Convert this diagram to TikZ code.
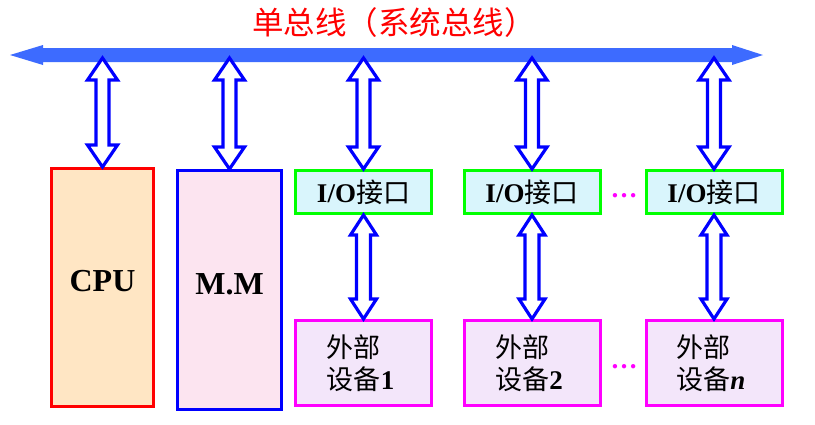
\documentclass[tikz,border=0pt]{standalone}
\usepackage{fontspec}
\setmainfont{Liberation Serif}
\newfontfamily\cjk{Noto Sans CJK SC}
\usetikzlibrary{calc}
\definecolor{busblue}{RGB}{61,107,255}
\definecolor{arrblue}{RGB}{0,0,255}
\definecolor{cpufill}{RGB}{255,230,196}
\definecolor{mmfill}{RGB}{252,228,240}
\definecolor{iofill}{RGB}{217,245,252}
\definecolor{devfill}{RGB}{243,230,250}
\definecolor{iogreen}{RGB}{0,255,0}
\definecolor{devmag}{RGB}{255,0,255}
\newcommand\hdarrow[5]{% #1 top tip, #2 bottom tip, #3 head half width, #4 shaft half width, #5 head length
  \draw[harrow] let \p1=(#1), \p2=(#2) in
    (\x1,\y1) -- (\x1+#3,\y1-#5) -- (\x1+#4,\y1-#5) -- (\x1+#4,\y2+#5) -- (\x1+#3,\y2+#5)
    -- (\x1,\y2) -- (\x1-#3,\y2+#5) -- (\x1-#4,\y2+#5) -- (\x1-#4,\y1-#5) -- (\x1-#3,\y1-#5) -- cycle;}
\tikzset{
  harrow/.style={draw=arrblue, line width=3.2pt, fill=white, line join=miter},
  boxbase/.style={rectangle, line width=3pt, inner sep=0pt},
  cpubox/.style={boxbase, draw=red, fill=cpufill},
  mmbox/.style={boxbase, draw=arrblue, fill=mmfill},
  iobox/.style={boxbase, draw=iogreen, fill=iofill, minimum width=136pt, minimum height=43pt,
    font=\fontsize{27}{30}\selectfont},
  devbox/.style={boxbase, draw=devmag, fill=devfill, minimum width=136pt, minimum height=85pt},
  devtxt/.style={align=left, font=\fontsize{27}{32}\selectfont},
  bigtxt/.style={font=\fontsize{32}{36}\selectfont\bfseries},
  dots/.style={text=devmag, font=\fontsize{27}{30}\selectfont\bfseries, anchor=base, inner sep=0pt},
  title/.style={text=red, font=\fontsize{31.5}{36}\selectfont\cjk}
}
\begin{document}
\begin{tikzpicture}[x=1pt,y=-1pt]
\useasboundingbox (0,0) rectangle (815,424);
\fill[white] (0,0) rectangle (815,424);

% title
\node[title] (ttl) at (394,23) {单总线（系统总线）};

% bus
\fill[busblue] (10,55) -- (43,45) -- (43,48) -- (732,48) -- (732,45) -- (763,55)
  -- (732,65) -- (732,62) -- (43,62) -- (43,65) -- cycle;
\coordinate (bus) at (400,58);

% boxes
\node[cpubox, minimum width=102pt, minimum height=238pt] (cpu) at (102.5,287.5) {};
\node[mmbox, minimum width=104pt, minimum height=239pt] (mm) at (229.5,290) {};
\node[bigtxt] (cputxt) at ($(cpu.center)+(0,-6.5)$) {CPU};
\node[bigtxt] (mmtxt) at ($(mm.center)+(0,-6)$) {M.M};

\node[iobox] (io1) at (363.5,192) {\textbf{I/O}{\cjk 接口}};
\node[iobox] (io2) at (532,192) {\textbf{I/O}{\cjk 接口}};
\node[iobox] (io3) at (714,192) {\textbf{I/O}{\cjk 接口}};

\node[devbox] (d1) at (363.5,363) {};
\node[devbox] (d2) at (532,363) {};
\node[devbox] (d3) at (714,363) {};
\node[devtxt] (d1t) at ($(d1.center)+(-3,0)$) {{\cjk 外部}\\{\cjk 设备}\textbf{1}};
\node[devtxt] (d2t) at ($(d2.center)+(-3,0)$) {{\cjk 外部}\\{\cjk 设备}\textbf{2}};
\node[devtxt] (d3t) at ($(d3.center)+(-3,0)$) {{\cjk 外部}\\{\cjk 设备}\textbf{\textit{n}}};

% dots
\node[dots] (dt1) at (624,197) {…};
\node[dots] (dt2) at (624,368) {…};

% upper arrows
\foreach \b in {cpu,mm,io1,io2,io3}{
  \hdarrow{\b.north |- bus}{\b.north}{15pt}{6.5pt}{22pt}
}
% lower arrows
\foreach \i in {1,2,3}{
  \hdarrow{io\i.south}{d\i.north}{13pt}{7pt}{20pt}
}
\end{tikzpicture}
\end{document}
